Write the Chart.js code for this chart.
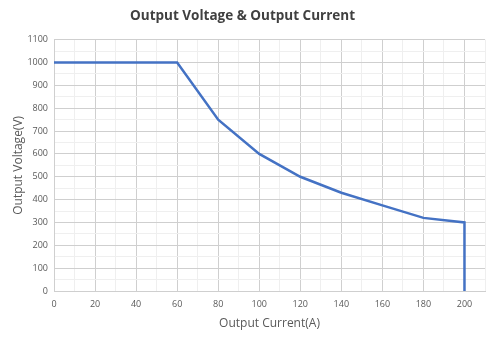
<!DOCTYPE html>
<html>
<head>
<meta charset="utf-8">
<script src="https://cdn.jsdelivr.net/npm/chart.js@4/dist/chart.umd.min.js"></script>
<style>
  html, body { margin: 0; padding: 0; background: #fff; }
  #wrap { width: 490px; height: 340px; }
</style>
</head>
<body>
<div id="wrap"><canvas id="myChart" width="490" height="340"></canvas></div>
<script>
// data
const current = [0, 60, 80, 100, 120, 140, 160, 180, 200, 200];
const voltage = [1000, 1000, 750, 600, 500, 430, 375, 320, 300, 0];

const xMin = 0, xMax = 210, xStep = 10, xLabelStep = 20;
const yMin = 0, yMax = 1100, yStep = 50, yLabelStep = 100;

const fontFamily = "'Open Sans', 'Noto Sans', sans-serif";
const textColor = '#595959';

const points = current.map((c, i) => ({ x: c, y: voltage[i] }));

const ctx = document.getElementById('myChart').getContext('2d');
const myChart = new Chart(ctx, {
    type: 'line',
    data: {
        datasets: [
            {
                label: 'Output Voltage',
                data: points,
                borderColor: '#4472C4',
                borderWidth: 2.5,
                pointRadius: 0,
                tension: 0,
                fill: false
            }
        ]
    },
    options: {
        responsive: false,
        animation: false,
        layout: {
            padding: { left: 0, right: 5, top: 0, bottom: 0 }
        },
        plugins: {
            title: {
                display: true,
                text: 'Output Voltage & Output Current',
                color: '#404040',
                font: { family: fontFamily, size: 13.5, weight: 'bold' },
                padding: { top: 8, bottom: 15.5 }
            },
            legend: { display: false },
            tooltip: { enabled: false }
        },
        scales: {
            x: {
                type: 'linear',
                min: xMin,
                max: xMax,
                afterFit: (scale) => {
                    scale.height = 49;
                    scale.paddingRight = 0;
                    scale.paddingLeft = 0;
                },
                ticks: {
                    stepSize: xStep,
                    autoSkip: false,
                    maxRotation: 0,
                    color: textColor,
                    padding: 8,
                    font: { family: fontFamily, size: 9 },
                    callback: (v) => (v % xLabelStep === 0 && v <= 200) ? v : ''
                },
                grid: {
                    drawTicks: false,
                    color: (c) => (c.tick && c.tick.value % xLabelStep === 0) ? '#cfcfcf' : '#efefef',
                    lineWidth: 1
                },
                border: { color: '#cfcfcf' },
                title: {
                    display: true,
                    text: 'Output Current(A)',
                    color: textColor,
                    font: { family: fontFamily, size: 12 },
                    padding: { top: 0, bottom: 9 }
                }
            },
            y: {
                min: yMin,
                max: yMax,
                afterFit: (scale) => { scale.width = 54; },
                ticks: {
                    stepSize: yStep,
                    autoSkip: false,
                    color: textColor,
                    padding: 6,
                    font: { family: fontFamily, size: 9 },
                    callback: (v) => (v % yLabelStep === 0) ? v : ''
                },
                grid: {
                    drawTicks: false,
                    color: (c) => (c.tick && c.tick.value % yLabelStep === 0) ? '#cfcfcf' : '#efefef',
                    lineWidth: 1
                },
                border: { color: '#cfcfcf' },
                title: {
                    display: true,
                    text: 'Output Voltage(V)',
                    color: textColor,
                    font: { family: fontFamily, size: 12 },
                    padding: { top: 11, bottom: 0 }
                }
            }
        }
    }
});
</script>
</body>
</html>
